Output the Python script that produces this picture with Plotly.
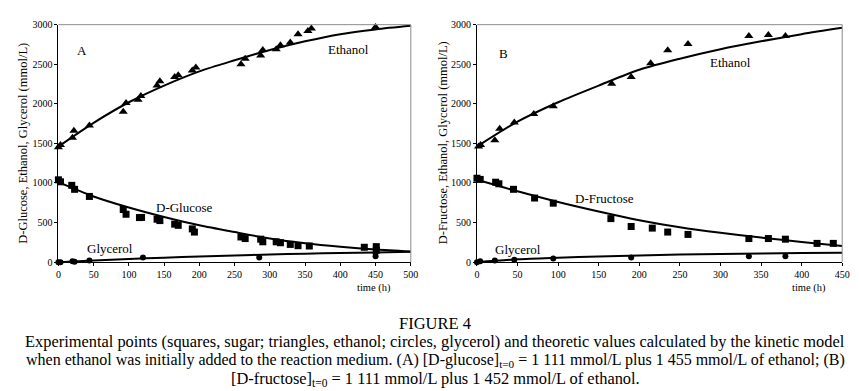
import plotly.graph_objects as go

# ---------------- Panel A (D-glucose) ----------------
a_eth_t = [0, 3, 20, 22, 44, 92, 96, 113, 117, 140, 144, 165, 170, 190, 195, 259, 265, 287, 290, 309, 315, 329, 340, 354, 359, 450]
a_eth_v = [1450, 1480, 1570, 1660, 1725, 1900, 2010, 2050, 2100, 2230, 2285, 2340, 2360, 2420, 2460, 2500, 2570, 2610, 2680, 2690, 2740, 2775, 2880, 2920, 2950, 2970]

a_glu_t = [0, 3, 19, 23, 44, 92, 96, 115, 118, 140, 144, 165, 170, 190, 193, 259, 265, 287, 290, 309, 315, 329, 340, 356, 434, 451, 451]
a_glu_v = [1040, 1015, 970, 920, 830, 665, 605, 563, 565, 542, 525, 480, 465, 420, 380, 318, 298, 290, 257, 257, 245, 224, 208, 204, 188, 196, 150]

a_gly_t = [0, 3, 20, 23, 44, 120, 285, 450, 450]
a_gly_v = [0, 0, 10, 5, 20, 60, 60, 75, 120]

a_model_t = [0, 50, 100, 150, 200, 250, 300, 350, 400, 450, 500]
a_model_eth = [1460, 1760, 2020, 2230, 2410, 2550, 2680, 2790, 2880, 2940, 2985]
a_model_glu = [1010, 830, 690, 570, 465, 380, 300, 240, 195, 160, 135]
a_model_gly = [0, 20, 40, 57, 72, 85, 97, 107, 116, 123, 130]

# ---------------- Panel B (D-fructose) ----------------
b_eth_t = [2, 4.5, 22, 28, 46, 70, 94, 166, 190, 214, 235, 260, 335, 359, 380]
b_eth_v = [1460, 1480, 1540, 1685, 1765, 1870, 1970, 2255, 2338, 2513, 2677, 2757, 2857, 2868, 2857]

b_fru_t = [0, 4, 23, 27, 45, 71, 94, 165, 190, 216, 235, 260, 335, 359, 380, 419, 439]
b_fru_v = [1060, 1045, 1010, 990, 920, 810, 745, 550, 450, 430, 380, 350, 298, 298, 290, 237, 237]

b_gly_t = [0, 4, 22, 46, 94, 190, 335, 380]
b_gly_v = [0, 10, 20, 30, 45, 60, 73, 73]

b_model_t = [0, 50, 100, 150, 200, 250, 300, 350, 400, 450]
b_model_eth = [1460, 1775, 2020, 2230, 2430, 2570, 2690, 2790, 2880, 2960]
b_model_fru = [1040, 895, 760, 640, 530, 440, 370, 310, 255, 205]
b_model_gly = [0, 35, 55, 72, 85, 95, 103, 110, 115, 120]

x_ticks_a = [0, 50, 100, 150, 200, 250, 300, 350, 400, 450, 500]
x_ticks_b = [0, 50, 100, 150, 200, 250, 300, 350, 400, 450]
y_ticks = [0, 500, 1000, 1500, 2000, 2500, 3000]

SERIF = "Liberation Serif"
BLACK = "#000000"

fig = go.Figure()


def add_points(t, v, symbol, size, xa, ya):
    fig.add_trace(go.Scatter(x=t, y=v, mode="markers", xaxis=xa, yaxis=ya,
                             marker=dict(symbol=symbol, size=size, color=BLACK),
                             cliponaxis=False, showlegend=False, hoverinfo="skip"))


def add_line(t, v, xa, ya):
    fig.add_trace(go.Scatter(x=t, y=v, mode="lines", xaxis=xa, yaxis=ya,
                             line=dict(color=BLACK, width=2, shape="spline", smoothing=0.8),
                             cliponaxis=False, showlegend=False, hoverinfo="skip"))


# Panel A
add_line(a_model_t, a_model_eth, "x", "y")
add_line(a_model_t, a_model_glu, "x", "y")
add_line(a_model_t, a_model_gly, "x", "y")
add_points(a_eth_t, a_eth_v, "triangle-up", 8, "x", "y")
add_points(a_glu_t, a_glu_v, "square", 7, "x", "y")
add_points(a_gly_t, a_gly_v, "circle", 6, "x", "y")

# Panel B
add_line(b_model_t, b_model_eth, "x2", "y2")
add_line(b_model_t, b_model_fru, "x2", "y2")
add_line(b_model_t, b_model_gly, "x2", "y2")
add_points(b_eth_t, b_eth_v, "triangle-up", 8, "x2", "y2")
add_points(b_fru_t, b_fru_v, "square", 7, "x2", "y2")
add_points(b_gly_t, b_gly_v, "circle", 6, "x2", "y2")

W, H = 859, 391
ydom = [1 - 256 / H, 1 - 11 / H]

axis_common = dict(showgrid=False, zeroline=False, showline=True, linecolor=BLACK, linewidth=1,
                   ticks="outside", ticklen=3, tickcolor=BLACK, tickwidth=1,
                   tickfont=dict(family=SERIF, size=10, color=BLACK))

fig.update_layout(
    width=W, height=H,
    margin=dict(l=0, r=0, t=0, b=0),
    paper_bgcolor="white", plot_bgcolor="white",
    font=dict(family=SERIF, color=BLACK),
    xaxis=dict(domain=[48 / W, 405 / W], range=[0, 500], tickvals=x_ticks_a, anchor="y", **axis_common),
    yaxis=dict(domain=ydom, range=[0, 3000], tickvals=y_ticks, anchor="x", **axis_common),
    xaxis2=dict(domain=[472 / W, 842 / W], range=[0, 450], tickvals=x_ticks_b, anchor="y2", **axis_common),
    yaxis2=dict(domain=ydom, range=[0, 3000], tickvals=y_ticks, anchor="x2", **axis_common),
)

# gray frame lines (top & right) for both panels
for xr, yr in (("x", "y"), ("x2", "y2")):
    fig.add_shape(type="line", xref=xr + " domain", yref=yr + " domain", x0=0, x1=1, y0=1, y1=1,
                  line=dict(color="#8c8c8c", width=1))
    fig.add_shape(type="line", xref=xr + " domain", yref=yr + " domain", x0=1, x1=1, y0=0, y1=1,
                  line=dict(color="#8c8c8c", width=1))

ann = []


def txt(x, y, s, size=12, xref="paper", yref="paper", xanchor="center", yanchor="middle", angle=0):
    ann.append(dict(x=x, y=y, text=s, showarrow=False, xref=xref, yref=yref, xanchor=xanchor,
                    yanchor=yanchor, textangle=angle, borderpad=0,
                    font=dict(family=SERIF, size=size, color=BLACK)))


def px(xp, yp):
    return xp / W, 1 - yp / H


# in-plot labels
for (xp, yp, s) in [(72, 38, "A"), (342, 37, "Ethanol"), (176, 200, "D-Glucose"), (100, 242, "Glycerol"),
                    (499, 41, "B"), (729, 50, "Ethanol"), (601, 190, "D-Fructose"), (514, 243, "Glycerol")]:
    x, y = px(xp, yp)
    txt(x, y, s, size=13)

# y-axis titles
x, y = px(12, 133)
txt(x, y, "D-Glucose, Ethanol, Glycerol (mmol/L)", size=12.5, angle=-90)
x, y = px(438, 133)
txt(x, y, "D-Fructose, Ethanol, Glycerol (mmol/L)", size=12.5, angle=-90)

# x-axis titles
x, y = px(368, 283)
txt(x, y, "time (h)", size=10.5)
x, y = px(808, 283)
txt(x, y, "time (h)", size=10.5)

# caption
txt(0.5, 1 - 319 / H, "FIGURE 4", size=16.5)
txt(0.5, 1 - 338 / H, "Experimental points (squares, sugar; triangles, ethanol; circles, glycerol) and theoretic values calculated by the kinetic model", size=16.4)
txt(0.5, 1 - 357 / H, "when ethanol was initially added to the reaction medium. (A) [D-glucose]<sub>t=0</sub> = 1 111 mmol/L plus 1 455 mmol/L of ethanol; (B)", size=16)
txt(0.5, 1 - 377 / H, "[D-fructose]<sub>t=0</sub> = 1 111 mmol/L plus 1 452 mmol/L of ethanol.", size=16.4)

fig.update_layout(annotations=ann)
fig.write_html("out.html")
